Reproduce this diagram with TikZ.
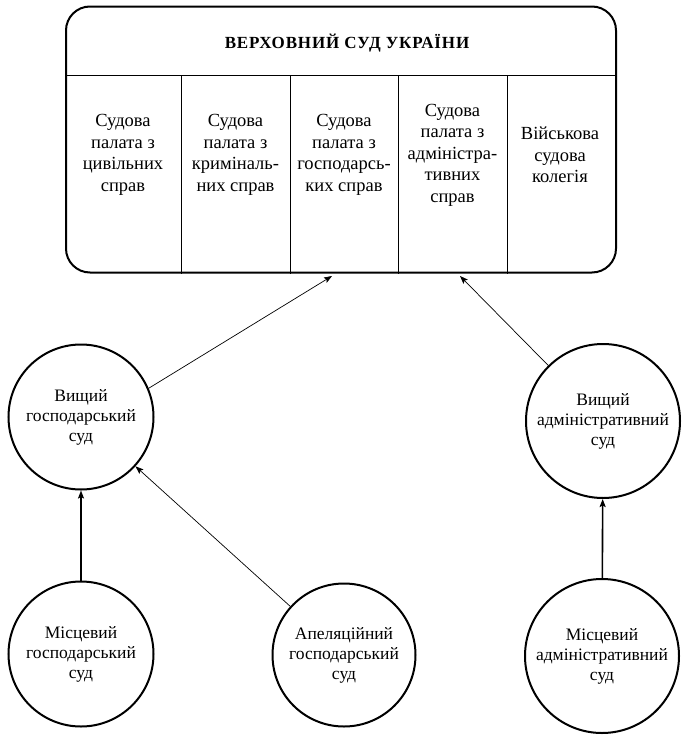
\documentclass[tikz,border=0pt]{standalone}
\usepackage{fontspec}
\setmainfont{Liberation Serif}
\usetikzlibrary{calc,arrows.meta}

\begin{document}
\begin{tikzpicture}[x=1pt,y=-1pt,
    court/.style={circle, draw, line width=2pt, inner sep=0pt, align=center,
      font=\fontsize{17.5}{20}\selectfont},
    chamber/.style={align=center, inner sep=0pt, font=\fontsize{18.5}{21.5}\selectfont},
    link/.style={-{Stealth[length=8pt,width=6pt,inset=1.5pt]}, line width=0.7pt},
    uplink/.style={-{Stealth[length=8pt,width=6pt,inset=1.5pt]}, line width=1.6pt}]
    \useasboundingbox (0,0) rectangle (681,736);

    % supreme court box
    \node[draw, line width=2pt, rounded corners=24pt, minimum width=550pt,
      minimum height=266pt, inner sep=0pt] (vsu) at (341,139.5) {};
    \node[font=\bfseries\fontsize{17}{20}\selectfont\addfontfeature{LetterSpace=5}] (title) at (347,43) {ВЕРХОВНИЙ СУД УКРАЇНИ};
    \draw[line width=0.8pt] (vsu.west |- 0,75) -- (vsu.east |- 0,75);
    \foreach \x in {181,290,398,507}
      \draw[line width=0.8pt] (\x,75) -- ({\x},0 |- vsu.south);

    % chambers
    \foreach \x/\txt [count=\i] in {123/{Судова\\палата з\\цивільних\\справ},
        235.5/{Судова\\палата з\\криміналь-\\них справ},
        344/{Судова\\палата з\\господарсь-\\ких справ},
        452.5/{Судова\\палата з\\адміністра-\\тивних\\справ},
        560/{Військова\\судова\\колегія}}{
      \node[chamber] (ch\i) at (\x,155) {\txt};
    }

    % courts
    \node[court, minimum size=145pt] (vgs) at (81,417) {Вищий\\господарський\\суд};
    \node[court, minimum size=145pt] (mgs) at (81,654) {Місцевий\\господарський\\суд};
    \node[court, minimum size=143pt] (ags) at (344,655) {Апеляційний\\господарський\\суд};
    \node[court, minimum size=154pt] (vas) at (603,421) {Вищий\\адміністративний\\суд};
    \node[court, minimum size=154pt] (mas) at (602,656) {Місцевий\\адміністративний\\суд};

    \coordinate (inA) at (332,276);
    \coordinate (inB) at (460,276);

    % arrows
    \draw[link] (vgs.23) -- (inA);
    \draw[link] (vas) -- (inB);
    \draw[link] (ags) -- (vgs);
    \draw[uplink] (mgs) -- (vgs);
    \draw[uplink] (mas) -- (vas);
  \end{tikzpicture}
\end{document}
